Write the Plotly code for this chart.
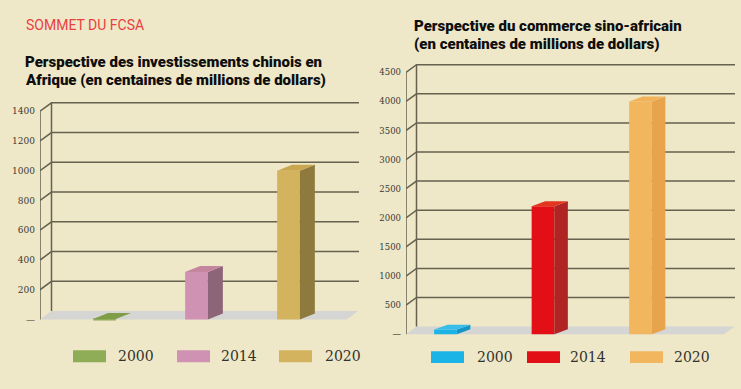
import plotly.graph_objects as go

W, H = 741, 389
BG = "#EEE7C8"

# ---------------- data ----------------
years = ["2000", "2014", "2020"]
invest_values = [4, 320, 1000]          # centaines de millions de dollars
trade_values = [80, 2200, 4000]
invest_ticks = [0, 200, 400, 600, 800, 1000, 1200, 1400]
trade_ticks = [0, 500, 1000, 1500, 2000, 2500, 3000, 3500, 4000, 4500]

invest_front = ["#8FAC57", "#CF92B2", "#D4B35E"]
invest_top = ["#7F9C47", "#C4859F", "#C9A650"]
invest_side = ["#6E8A3A", "#8E6479", "#8E7A3C"]
trade_front = ["#1AB4E6", "#E30F17", "#F2B65F"]
trade_top = ["#38BDEB", "#E2361F", "#F0B35A"]
trade_side = ["#1495C6", "#B02424", "#E8A34D"]

title_main = "SOMMET DU FCSA"
title_left = ["Perspective des investissements chinois en",
              "Afrique (en centaines de millions de dollars)"]
title_right = ["Perspective du commerce sino-africain",
               "(en centaines de millions de dollars)"]

# ---------------- panel geometry (pixels) ----------------
panels = [
    dict(xa="x", ya="y", xname="xaxis", yname="yaxis",
         values=invest_values, ticks=invest_ticks,
         front=invest_front, top=invest_top, side=invest_side,
         front_x=40, right_px=362, top_px=100, bot_px=324,
         zero_py=321.2, ppu=0.14957, c0=104.5, step=92.0,
         wdx=11.5, wdy=8.5, grid_end=359, floor_end=346.7,
         bar_w=22.7, bdx=15, bdy=6, tick_size=9,
         legend=[(73, 116), (177, 219), (279, 323)], leg_y=358,
         title=title_left, title_x=24, title_y=[62, 80]),
    dict(xa="x2", ya="y2", xname="xaxis2", yname="yaxis2",
         values=trade_values, ticks=trade_ticks,
         front=trade_front, top=trade_top, side=trade_side,
         front_x=406, right_px=738, top_px=60, bot_px=339,
         zero_py=336.0, ppu=0.05851, c0=445.5, step=97.5,
         wdx=10.5, wdy=7.7, grid_end=735, floor_end=724,
         bar_w=22.7, bdx=13.5, bdy=5, tick_size=8.5,
         legend=[(431, 475), (527, 568), (630, 672)], leg_y=359,
         title=title_right, title_x=413, title_y=[26, 44]),
]

fig = go.Figure()
shapes = []
annotations = []
GRID = "#66624F"

for p in panels:
    step, ppu = p["step"], p["ppu"]
    px2x = lambda px, p=p: (px - p["c0"]) / p["step"]
    x0 = px2x(p["front_x"])
    wdx = p["wdx"] / step
    wdy = p["wdy"] / ppu
    bw = p["bar_w"] / step
    bdx = p["bdx"] / step
    bdy = p["bdy"] / ppu
    xgrid = px2x(p["grid_end"])
    xfloor = px2x(p["floor_end"])
    ticks = p["ticks"]
    vmax = ticks[-1]
    xa, ya = p["xa"], p["ya"]

    # floor
    shapes.append(dict(type="path", xref=xa, yref=ya, layer="below",
                       path=f"M{x0},{0} L{xfloor},{0} L{xfloor + wdx},{wdy} L{x0 + wdx},{wdy} Z",
                       fillcolor="#D5D5D3", line=dict(width=0)))
    # gridlines on back wall + diagonal ticks
    for v in ticks[1:]:
        shapes.append(dict(type="path", xref=xa, yref=ya, layer="below",
                           path=f"M{x0},{v} L{x0 + wdx},{v + wdy} L{xgrid},{v + wdy}",
                           line=dict(color=GRID, width=1.5)))
    # front axis line
    shapes.append(dict(type="line", xref=xa, yref=ya, layer="below",
                       x0=x0, y0=0, x1=x0, y1=vmax, line=dict(color=GRID, width=1.5)))
    # back axis line
    shapes.append(dict(type="line", xref=xa, yref=ya, layer="below",
                       x0=x0 + wdx, y0=wdy, x1=x0 + wdx, y1=vmax + wdy,
                       line=dict(color=GRID, width=1.5)))

    # bars: front faces
    xs = list(range(len(years)))
    fig.add_trace(go.Bar(x=xs, y=p["values"], width=bw, base=0,
                         marker=dict(color=p["front"], line=dict(width=0)),
                         xaxis=xa, yaxis=ya, showlegend=False, hoverinfo="skip"))
    # top and side faces
    for i, v in enumerate(p["values"]):
        xl, xr = xs[i] - bw / 2, xs[i] + bw / 2
        fig.add_trace(go.Scatter(
            x=[xr, xr + bdx, xr + bdx, xr, xr], y=[0, bdy, v + bdy, v, 0],
            fill="toself", fillcolor=p["side"][i], mode="lines", line=dict(width=0),
            xaxis=xa, yaxis=ya, showlegend=False, hoverinfo="skip"))
        fig.add_trace(go.Scatter(
            x=[xl, xr, xr + bdx, xl + bdx, xl], y=[v, v, v + bdy, v + bdy, v],
            fill="toself", fillcolor=p["top"][i], mode="lines", line=dict(width=0),
            xaxis=xa, yaxis=ya, showlegend=False, hoverinfo="skip"))

    xr_ = [px2x(p["front_x"]), px2x(p["right_px"])]
    yr_ = [(p["zero_py"] - p["bot_px"]) / ppu, (p["zero_py"] - p["top_px"]) / ppu]
    fig.update_layout(**{
        p["xname"]: dict(domain=[p["front_x"] / W, p["right_px"] / W], range=xr_,
                         visible=False, fixedrange=True, anchor=ya),
        p["yname"]: dict(domain=[1 - p["bot_px"] / H, 1 - p["top_px"] / H], range=yr_,
                         tickvals=ticks, ticktext=["—"] + [str(t) for t in ticks[1:]],
                         showgrid=False, zeroline=False, showline=False, ticks="",
                         ticklabelstandoff=4, anchor=xa, fixedrange=True,
                         tickfont=dict(family="DejaVu Serif", size=p["tick_size"], color="#3A3A34")),
    })

    # legend (manual)
    for i, (rx, tx) in enumerate(p["legend"]):
        ly = p["leg_y"]
        shapes.append(dict(type="rect", xref="paper", yref="paper",
                           x0=rx / W, x1=(rx + 33) / W, y0=1 - (ly + 6) / H, y1=1 - (ly - 6) / H,
                           fillcolor=p["front"][i], line=dict(width=0)))
        annotations.append(dict(text=years[i], xref="paper", yref="paper",
                                x=tx / W, y=1 - ly / H, xanchor="left", yanchor="middle",
                                showarrow=False,
                                font=dict(family="DejaVu Serif", size=14, color="#33332E")))

    # panel title (two lines)
    for line, ty in zip(p["title"], p["title_y"]):
        annotations.append(dict(text=line, xref="paper", yref="paper",
                                x=p["title_x"] / W, y=1 - ty / H, borderpad=0,
                                xanchor="left", yanchor="middle", showarrow=False,
                                font=dict(family="Roboto", size=15, color="#0E0E0E", weight=900)))

annotations.append(dict(text=title_main, xref="paper", yref="paper", x=24 / W, y=1 - 25 / H,
                        xanchor="left", yanchor="middle", showarrow=False,
                        font=dict(family="Roboto", size=14, color="#E8413F")))

fig.update_layout(width=W, height=H, autosize=False,
                  margin=dict(l=0, r=0, t=0, b=0),
                  paper_bgcolor=BG, plot_bgcolor="rgba(0,0,0,0)",
                  shapes=shapes, annotations=annotations,
                  showlegend=False, barmode="overlay")

fig.write_html("out.html", config={"displayModeBar": False},
               post_script="document.body.style.margin='0';document.body.style.overflow='hidden';")
